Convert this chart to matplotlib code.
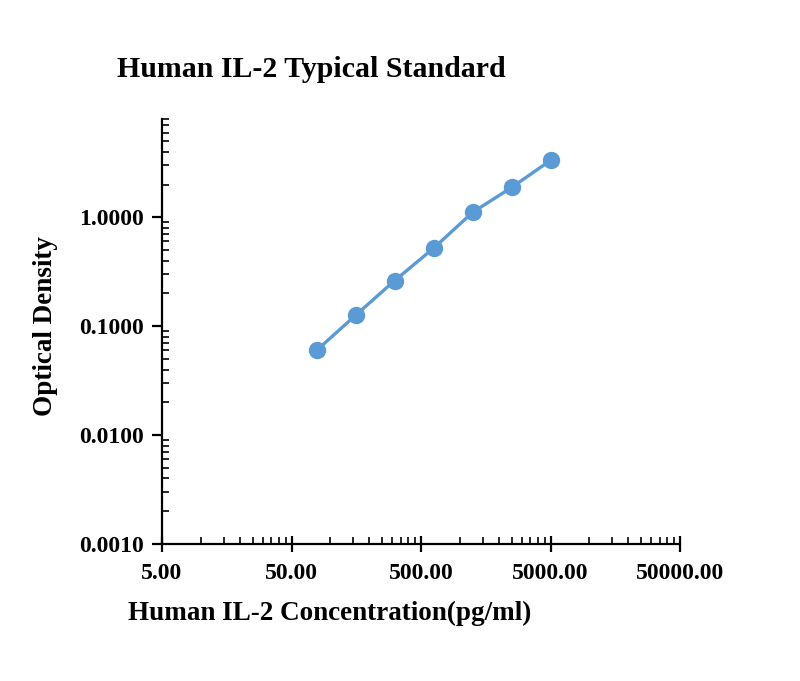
import matplotlib
matplotlib.use('Agg')
import matplotlib.pyplot as plt
from matplotlib.ticker import FixedLocator, NullFormatter

# standard curve readings
conc = [78.125, 156.25, 312.5, 625, 1250, 2500, 5000]
od = [0.060, 0.126, 0.262, 0.52, 1.11, 1.88, 3.33]

x_ticks = [5, 50, 500, 5000, 50000]
x_labels = ['5.00', '50.00', '500.00', '5000.00', '50000.00']
y_ticks = [0.001, 0.01, 0.1, 1.0]
y_labels = ['0.0010', '0.0100', '0.1000', '1.0000']

plt.rcParams['font.family'] = ['Liberation Serif', 'DejaVu Serif']
plt.rcParams['font.weight'] = 'bold'

W, H = 800, 681
fig = plt.figure(figsize=(W / 100, H / 100), dpi=100)
ax = fig.add_axes([162 / W, 1 - 544 / H, (680 - 162) / W, (544 - 119) / H])

ax.plot(conc, od, color='#5B9BD5', lw=2.4, marker='o', markersize=11.5,
        markeredgecolor='#5B9BD5', clip_on=False)

ax.set_xscale('log')
ax.set_yscale('log')
ax.set_xlim(5, 50000)
ax.set_ylim(0.001, 8)

# minor ticks: x every 5*k within each decade starting at 5, y standard 2..9
x_minor = [5 * 10 ** d * k for d in range(4) for k in range(2, 10)]
y_minor = [10.0 ** d * k for d in range(-3, 1) for k in range(2, 10)]
ax.xaxis.set_major_locator(FixedLocator(x_ticks))
ax.set_xticklabels(x_labels)
ax.yaxis.set_major_locator(FixedLocator(y_ticks))
ax.set_yticklabels(y_labels)
ax.xaxis.set_minor_locator(FixedLocator(x_minor))
ax.yaxis.set_minor_locator(FixedLocator([v for v in y_minor if v <= 8]))
ax.xaxis.set_minor_formatter(NullFormatter())
ax.yaxis.set_minor_formatter(NullFormatter())

ax.spines['top'].set_visible(False)
ax.spines['right'].set_visible(False)
for s in ('left', 'bottom'):
    ax.spines[s].set_linewidth(1.6)

ax.tick_params(axis='x', which='major', direction='inout', length=12, width=1.6,
               labelsize=17, pad=8)
ax.tick_params(axis='y', which='major', direction='out', length=7, width=1.6,
               labelsize=17, pad=6)
ax.tick_params(which='minor', direction='in', length=5, width=1.2)

fig.text(128 / W, 1 - 620 / H, 'Human IL-2 Concentration(pg/ml)', fontsize=19.5,
         fontweight='bold', ha='left', va='baseline')
fig.text(46 / W, 1 - 326 / H, 'Optical Density', fontsize=19.5, fontweight='bold',
         ha='center', va='center', rotation=90)
fig.text(117 / W, 1 - 77 / H, 'Human IL-2 Typical Standard', fontsize=21.5,
         fontweight='bold', ha='left', va='baseline')

fig.savefig('out.png', dpi=100)
